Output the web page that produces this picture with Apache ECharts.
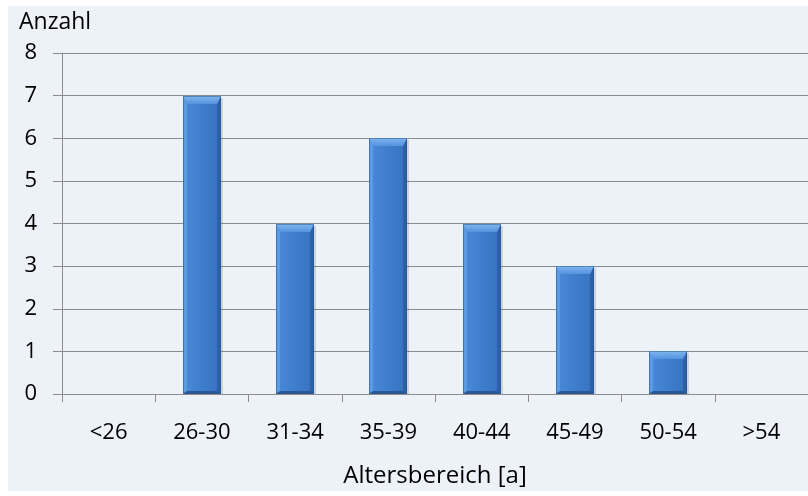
<!DOCTYPE html>
<html>
<head>
<meta charset="utf-8">
<script src="https://cdn.jsdelivr.net/npm/echarts@6/dist/echarts.min.js"></script>
<style>
  html, body { margin: 0; padding: 0; background: #ffffff; }
  #chart { width: 808px; height: 496px; }
</style>
</head>
<body>
<div id="chart"></div>
<script>
// Age groups and number of people per group
const categories = ['<26', '26-30', '31-34', '35-39', '40-44', '45-49', '50-54', '>54'];
const counts = [0, 7, 4, 6, 4, 3, 1, 0];
const yTicks = { min: 0, max: 8, interval: 1 };

const FONT = '"Open Sans", sans-serif';
const chart = echarts.init(document.getElementById('chart'));

// Beveled column: body + lighter top facet + side facets + darker bottom
function renderBevelBar(params, api) {
  const idx = api.value(0);
  const val = api.value(1);
  if (!val) return null;
  const top = api.coord([idx, val]);
  const base = api.coord([idx, 0]);
  const bandW = api.size([1, 0])[0];
  const w = Math.round(bandW * 0.41);
  const x0 = Math.round(top[0] - w / 2);
  const x1 = x0 + w;
  const y0 = Math.round(top[1]);
  const y1 = Math.round(base[1]);
  const bt = 8, bs = 4, bb = 3;
  return {
    type: 'group',
    children: [
      { // soft shadow on the right
        type: 'rect',
        shape: { x: x0 + 2, y: y0 + 2, width: w, height: y1 - y0 - 2 },
        style: { fill: 'rgba(60,70,90,0.18)' }
      },
      { // main body
        type: 'rect',
        shape: { x: x0, y: y0, width: w, height: y1 - y0 },
        style: {
          fill: new echarts.graphic.LinearGradient(0, 0, 1, 0, [
            { offset: 0, color: '#4a8ad8' },
            { offset: 0.5, color: '#3e7ecd' },
            { offset: 1, color: '#3772c0' }
          ])
        }
      },
      { // left facet
        type: 'polygon',
        shape: { points: [[x0, y0], [x0 + bs, y0 + bt], [x0 + bs, y1 - bb], [x0, y1]] },
        style: { fill: '#5c9ae2' }
      },
      { // right facet
        type: 'polygon',
        shape: { points: [[x1, y0], [x1 - bs, y0 + bt], [x1 - bs, y1 - bb], [x1, y1]] },
        style: { fill: '#2d61a6' }
      },
      { // bottom facet
        type: 'polygon',
        shape: { points: [[x0, y1], [x0 + bs, y1 - bb], [x1 - bs, y1 - bb], [x1, y1]] },
        style: { fill: '#2a5796' }
      },
      { // top facet
        type: 'polygon',
        shape: { points: [[x0, y0], [x1, y0], [x1 - bs, y0 + bt], [x0 + bs, y0 + bt]] },
        style: {
          fill: new echarts.graphic.LinearGradient(0, 0, 0, 1, [
            { offset: 0, color: '#80b6f0' },
            { offset: 1, color: '#5593de' }
          ])
        }
      },
      { // thin dark outline
        type: 'rect',
        shape: { x: x0 + 0.5, y: y0 + 0.5, width: w - 1, height: y1 - y0 - 1 },
        style: { fill: null, stroke: 'rgba(40,80,140,0.5)', lineWidth: 1 }
      }
    ]
  };
}

chart.setOption({
  animation: false,
  backgroundColor: '#ffffff',
  graphic: [
    {
      type: 'rect', z: -10, silent: true,
      shape: { x: 8, y: 6, width: 800, height: 485 },
      style: { fill: '#edf1f8' }
    },
    {
      type: 'text', x: 19, y: 22,
      style: { text: 'Anzahl', font: '23px ' + FONT, fill: '#000000', verticalAlign: 'middle' }
    }
  ],
  grid: { left: 62, top: 53, width: 754, height: 341, containLabel: false },
  xAxis: {
    type: 'category',
    data: categories,
    name: 'Altersbereich [a]',
    nameLocation: 'middle',
    nameGap: 82,
    nameTextStyle: { fontFamily: FONT, fontSize: 24, color: '#000000', verticalAlign: 'middle' },
    axisLine: { show: true, lineStyle: { color: '#8c8c8c', width: 1 } },
    axisTick: { show: true, alignWithLabel: false, length: 8, lineStyle: { color: '#8c8c8c' } },
    axisLabel: { margin: 39, fontFamily: FONT, fontSize: 22, color: '#000000', verticalAlign: 'middle' },
    splitLine: { show: false }
  },
  yAxis: {
    type: 'value',
    min: yTicks.min, max: yTicks.max, interval: yTicks.interval,
    axisLine: { show: true, lineStyle: { color: '#8c8c8c', width: 1 } },
    axisTick: { show: true, inside: false, length: 9, lineStyle: { color: '#8c8c8c' } },
    axisLabel: { margin: 25, fontFamily: FONT, fontSize: 22, color: '#000000' },
    splitLine: { show: true, lineStyle: { color: '#8c8c8c', width: 1.2 } }
  },
  series: [{
    type: 'custom',
    renderItem: renderBevelBar,
    encode: { x: 0, y: 1 },
    data: counts.map((v, i) => [i, v]),
    z: 5
  }]
});
</script>
</body>
</html>
